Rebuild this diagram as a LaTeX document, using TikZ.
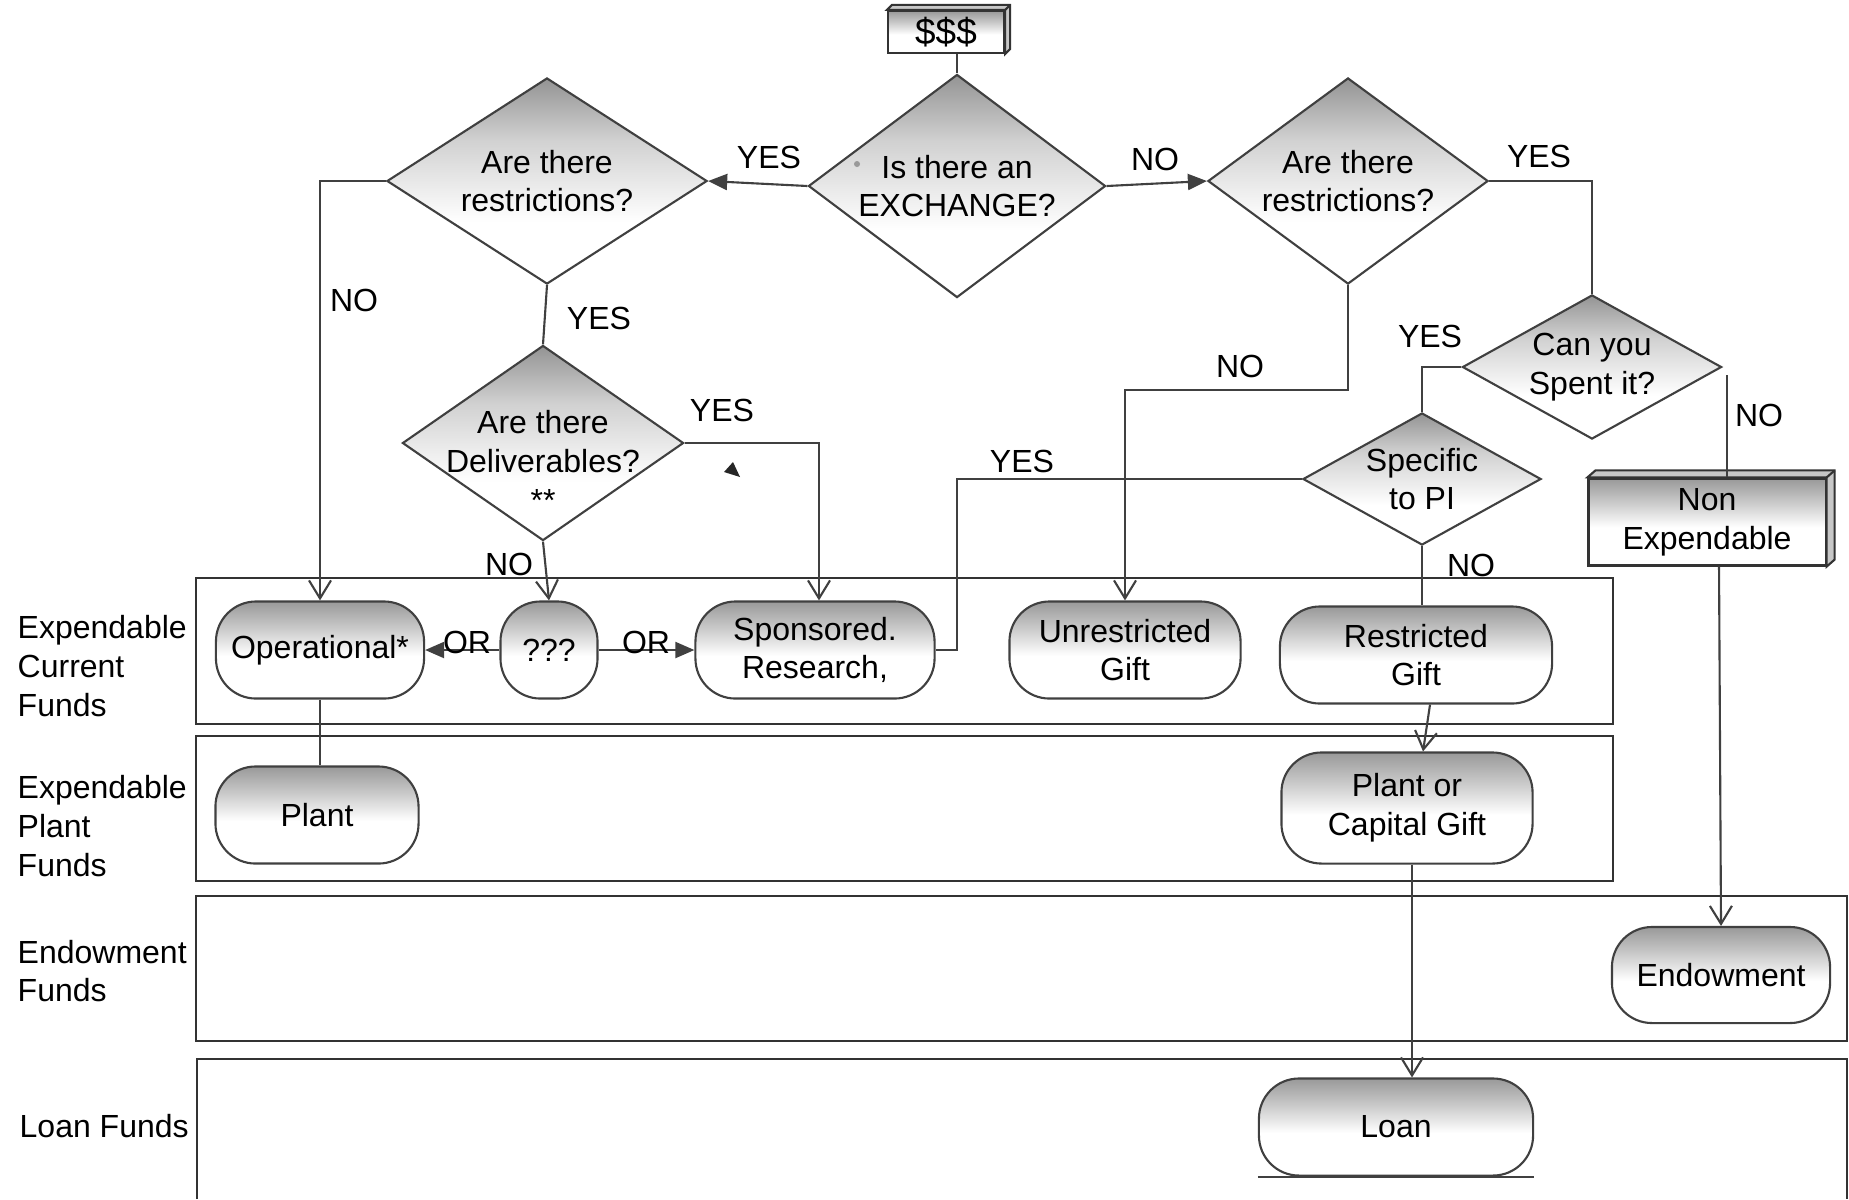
\documentclass[tikz,border=0pt]{standalone}
\usepackage{fontspec}
\setmainfont{Liberation Sans}
\usetikzlibrary{arrows.meta,positioning,shapes.geometric,calc}
% shadings: the 25bp..75bp band is mapped onto the shape
\pgfdeclareverticalshading{fundshade}{100bp}{color(0bp)=(white); color(25bp)=(white); color(47bp)=(white); color(62bp)=(black!22); color(75bp)=(black!40); color(100bp)=(black!40)}
\pgfdeclareverticalshading{askshade}{100bp}{color(0bp)=(white); color(25bp)=(white); color(40bp)=(white); color(60bp)=(black!18); color(75bp)=(black!42); color(100bp)=(black!42)}

\begin{document}
\begin{tikzpicture}[x=0.01cm, y=-0.01cm,
    font=\fontsize{9.1pt}{11pt}\selectfont,
    every node/.style={align=center},
    link/.style={line width=0.6pt, draw=black!75},
    flow/.style={link, -{Straight Barb[length=1.8mm,width=2.2mm]}},
    bigflow/.style={link, -{Triangle[length=1.9mm,width=1.6mm]}},
    ask/.style={diamond, draw=black!75, line width=0.6pt, inner sep=0pt, shade, shading=askshade},
    fund/.style={rectangle, rounded corners=0.4cm, draw=black!75, line width=0.6pt, inner sep=0pt,
      shade, shading=fundshade, minimum height=0.97cm},
    box3d/.style={rectangle, draw=black!80, line width=0.6pt, inner sep=0pt, shade, shading=fundshade},
    lane/.style={draw=black!80, line width=0.8pt}]

  \useasboundingbox (0,0) rectangle (1849,1199);

  % Fund lanes (top, bottom, right edge, label y, label)
  \foreach \tp/\bt/\rt/\ly/\txt in {578/724/1613/666/{Expendable\\Current\\Funds},
      736/881/1613/826/{Expendable\\Plant\\Funds},
      896/1041/1847/971/{Endowment\\Funds}} {
    \draw[lane] (196,\tp) rectangle (\rt,\bt);
    \node[anchor=west, align=left, inner sep=0pt] at (17,\ly) {\txt};
  }
  \draw[lane] (197,1199) -- (197,1059) -- (1847,1059) -- (1847,1199);
  \node[anchor=west, inner sep=0pt] (loanlbl) at (19,1126) {Loan Funds};

  % Start box with depth
  \node[box3d, minimum width=1.16cm, minimum height=0.42cm, font=\fontsize{10.5pt}{12pt}\selectfont]
    (cash) at (946,32) {\$\$\$};
  \filldraw[draw=black!80, fill=black!22, line width=0.6pt] (cash.north west) -- ++(5,-5)
    -- ([shift={(5,-5)}]cash.north east) -- ([shift={(5,-5)}]cash.south east)
    -- (cash.south east) -- (cash.north east) -- cycle;
  \draw[black!80, line width=0.6pt] (cash.north east) -- ++(5,-5);

  % Decisions
  \node[ask, minimum width=2.97cm, minimum height=2.23cm, label={center:Is there an\\EXCHANGE?}] (exch) at (957,186) {};
  \node[ask, minimum width=3.2cm, minimum height=2.06cm, label={center:Are there\\restrictions?}] (restl) at (547,181) {};
  \node[ask, minimum width=2.8cm, minimum height=2.06cm, label={center:Are there\\restrictions?}] (restr) at (1348,181) {};
  \node[ask, minimum width=2.81cm, minimum height=1.95cm,
    label={[yshift=-0.18cm]center:Are there\\Deliverables?\\**}] (deliv) at (543,443) {};
  \node[ask, minimum width=2.59cm, minimum height=1.44cm, label={center:Can you\\Spent it?}] (spend) at (1592,367) {};
  \node[ask, minimum width=2.38cm, minimum height=1.32cm, label={center:Specific\\to PI}] (specpi) at (1422,479) {};
  \fill[black!40] (857,164) circle (3);

  % Non expendable box with depth
  \node[box3d, minimum width=2.37cm, minimum height=0.87cm] (nonexp) at (1707,522) {Non\\Expendable};
  \filldraw[draw=black!80, fill=black!22, line width=0.6pt] (nonexp.north west) -- ++(8,-7)
    -- ([shift={(8,-7)}]nonexp.north east) -- ([shift={(8,-7)}]nonexp.south east)
    -- (nonexp.south east) -- (nonexp.north east) -- cycle;
  \draw[black!80, line width=0.6pt] (nonexp.north east) -- ++(8,-7);

  % Fund outcomes
  \node[fund, minimum width=2.08cm] (oper) at (320,650) {Operational*};
  \node[fund, minimum width=0.97cm] (qqq) at (549,650) {???};
  \node[fund, minimum width=2.39cm] (spons) at (815,650) {Sponsored.\\Research,};
  \node[fund, minimum width=2.31cm] (unres) at (1125,650) {Unrestricted\\Gift};
  \node[fund, minimum width=2.72cm] (rgift) at (1416,655) {Restricted\\Gift};
  \node[fund, minimum width=2.03cm] (plant) at (317,815) {Plant};
  \node[fund, minimum width=2.51cm, minimum height=1.11cm] (pcgift) at (1407,808) {Plant or\\Capital Gift};
  \node[fund, minimum width=2.18cm, minimum height=0.96cm] (endow) at (1721,975) {Endowment};
  \node[fund, minimum width=2.74cm] (loan) at (1396,1127) {Loan};
  \draw[link] (loan.south west) -- (loan.south east);

  % Connectors
  \draw[link] (cash.south -| exch.north) -- (exch.north);
  \draw[bigflow] (exch.west) -- (restl.east);
  \draw[bigflow] (exch.east) -- (restr.west);
  \draw[flow] (restl.west) -| (oper.north);
  \draw[link] (restl.south) -- (deliv.north);
  \draw[flow] (deliv.east) -| ([xshift=0.04cm]spons.north);
  \draw[flow] (deliv.south) -- (qqq.north);
  \draw[bigflow] (qqq.west) -- (oper.east);
  \draw[bigflow] (qqq.east) -- (spons.west);
  \draw[link] (restr.east) -| (spend.north);
  \draw[flow] (restr.south) -- ++(0,105) -| (unres.north);
  \draw[link] (spend.west) -| (specpi.north);
  \draw[link] ([shift={(4,8)}]spend.east) coordinate (spendno) -- (spendno |- nonexp.north);
  \coordinate (pibend) at (957,0);
  \draw[link] (specpi.west) -- (specpi.west -| pibend) |- (spons.east);
  \draw[link] (specpi.south) -- (specpi.south |- rgift.north);
  \draw[flow] ([xshift=0.14cm]rgift.south) -- ([xshift=0.16cm]pcgift.north);
  \draw[link] (oper.south) -- (oper.south |- plant.north);
  \draw[flow] ([xshift=0.05cm]pcgift.south) -- ([xshift=0.05cm]pcgift.south |- loan.north);
  \draw[flow] ([xshift=0.12cm]nonexp.south) -- (endow.north);
  \fill[black!85] (733,462) -- (724,472) -- (740,477) -- cycle;

  % Branch labels
  \node (yesexch) at (769,157) {YES};
  \node (noexch) at (1155,159) {NO};
  \node (nooper) at (354,300) {NO};
  \node (yesdeliv) at (599,318) {YES};
  \node (yesspons) at (722,410) {YES};
  \node (noqqq) at (509,564) {NO};
  \node (orleft) at (467,642) {OR};
  \node (orright) at (646,642) {OR};
  \node (yesspend) at (1539,156) {YES};
  \node (nounres) at (1240,366) {NO};
  \node (yesspec) at (1430,336) {YES};
  \node (nonon) at (1759,415) {NO};
  \node (yespi) at (1022,461) {YES};
  \node (norgift) at (1471,565) {NO};
\end{tikzpicture}
\end{document}
